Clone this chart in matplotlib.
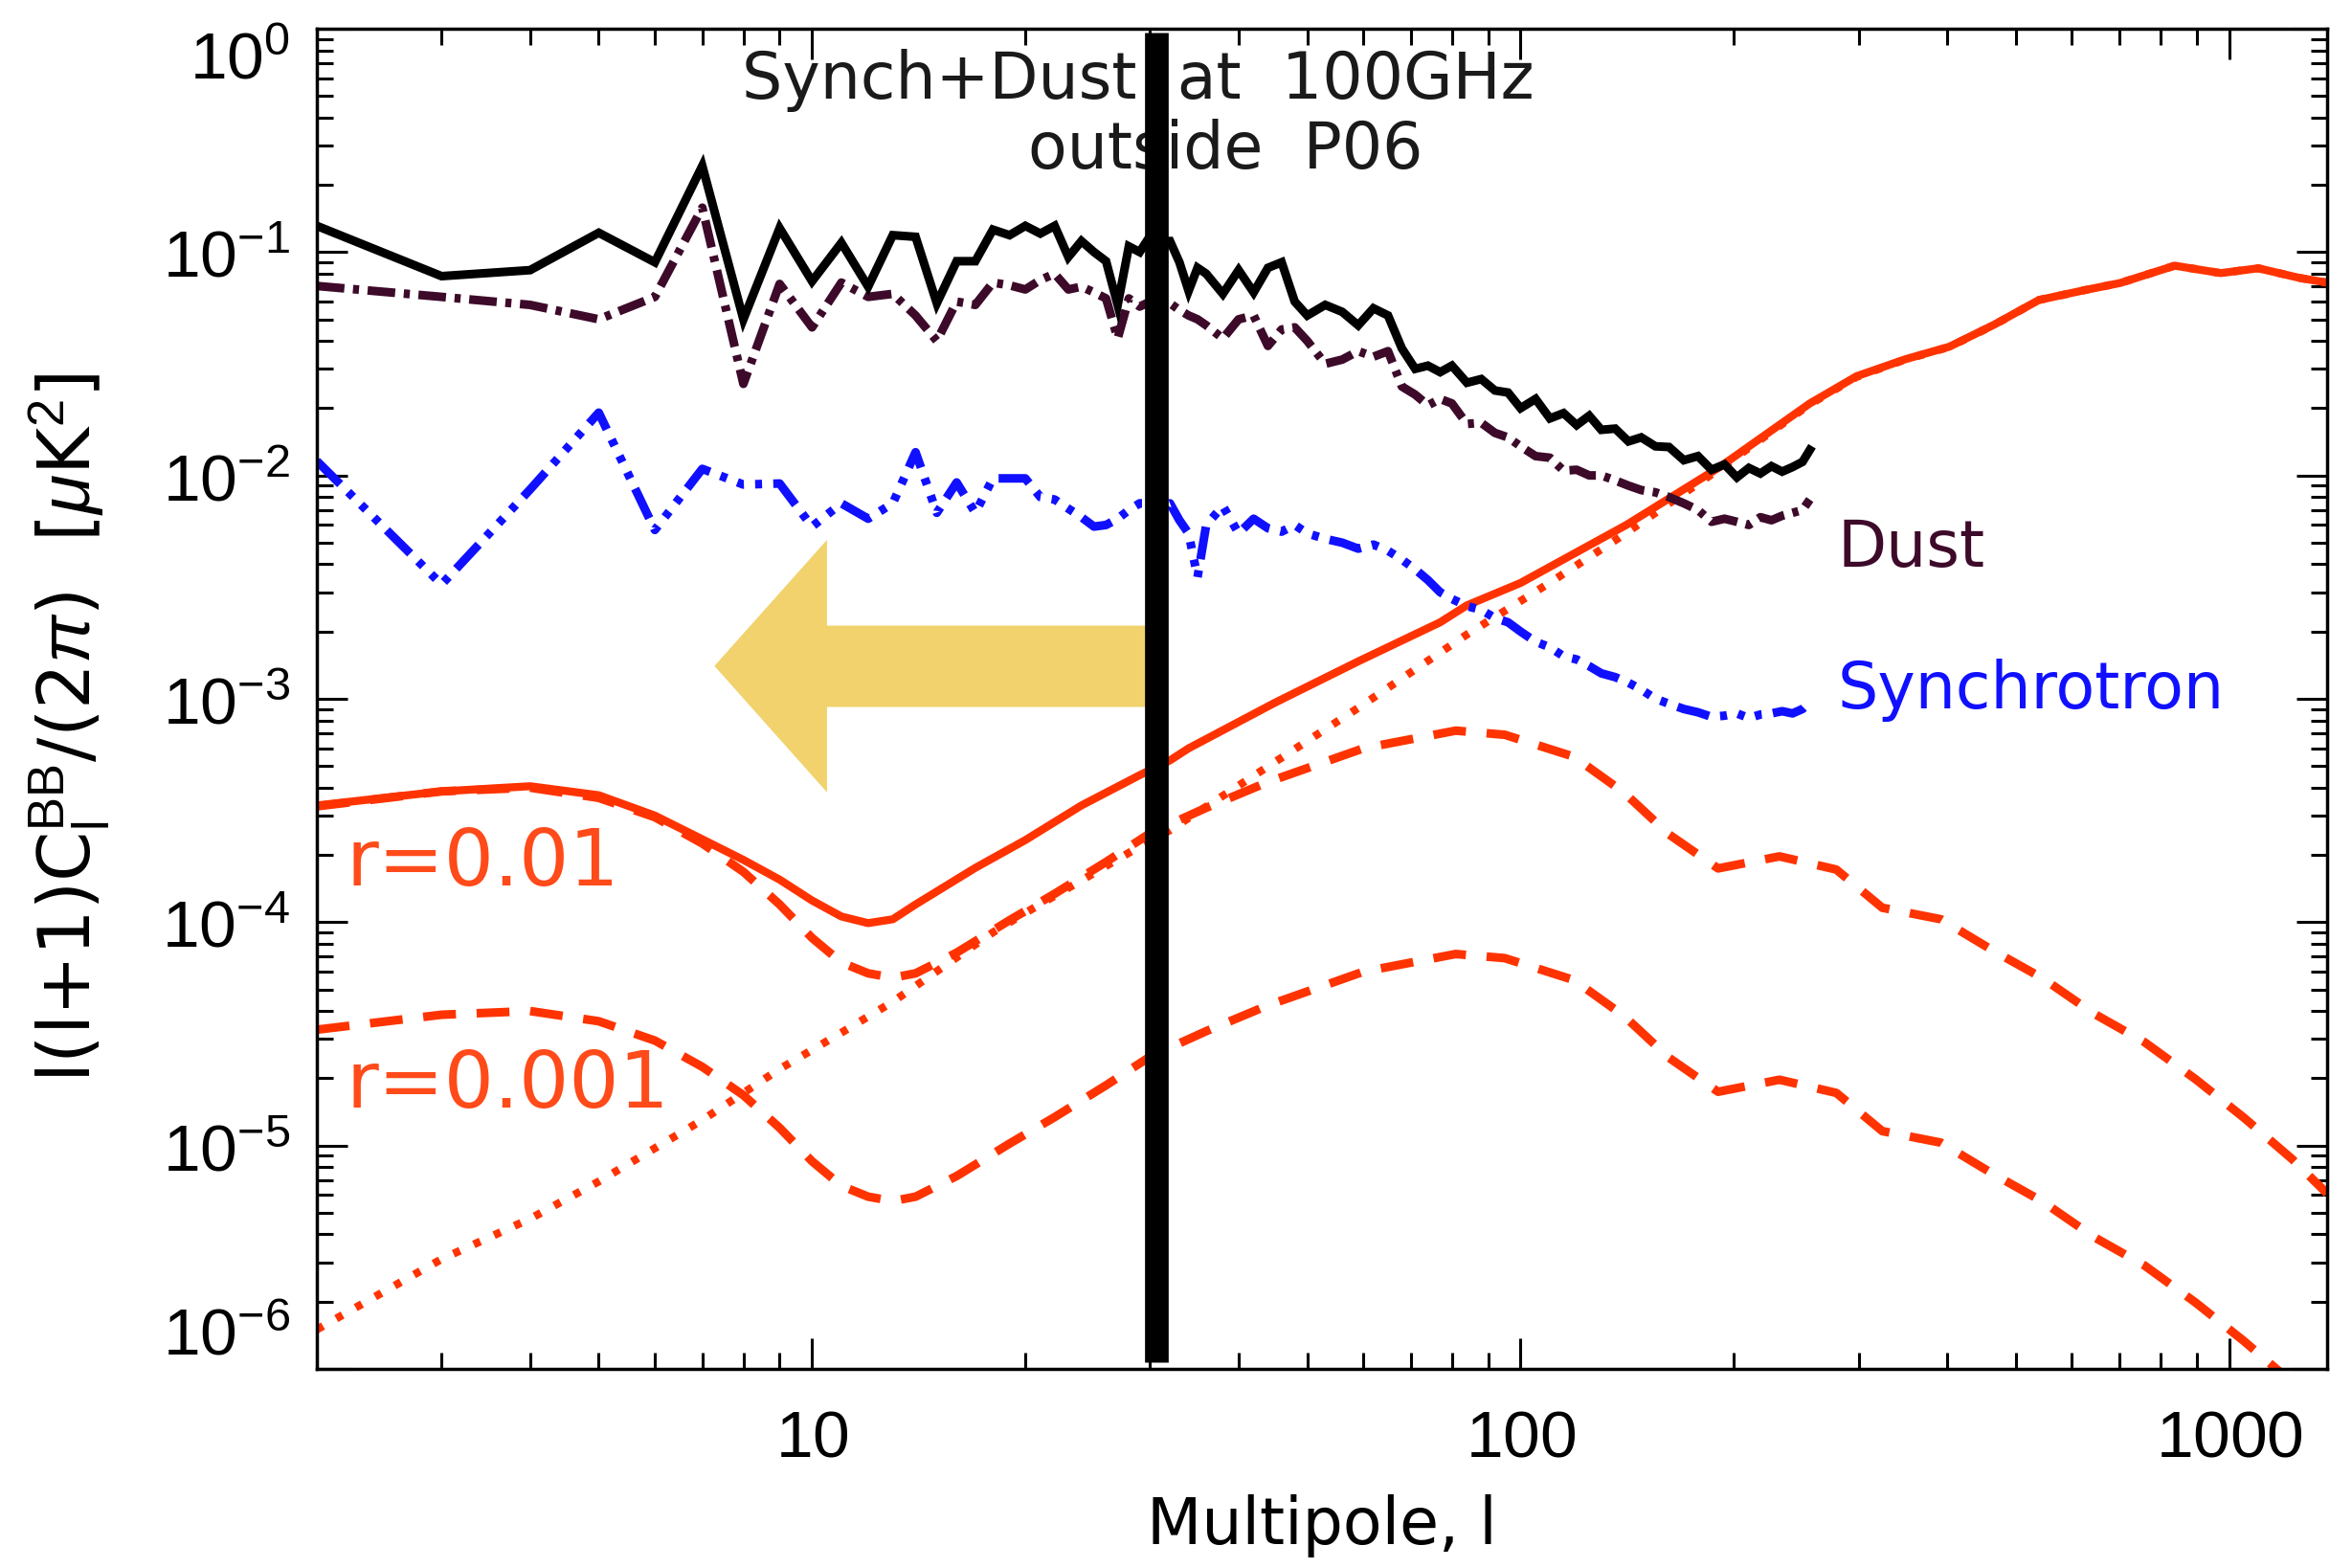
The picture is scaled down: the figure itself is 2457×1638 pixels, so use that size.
import matplotlib
matplotlib.use("Agg")
import math
import matplotlib.pyplot as plt
from matplotlib.patches import Polygon
from matplotlib.ticker import FuncFormatter, NullFormatter, LogLocator, FixedLocator

plt.rcParams['font.family'] = ['DejaVu Sans']
plt.rcParams['mathtext.fontset'] = 'custom'
plt.rcParams['mathtext.rm'] = 'Liberation Sans'
plt.rcParams['mathtext.it'] = 'Liberation Sans:italic'
plt.rcParams['mathtext.bf'] = 'Liberation Sans:bold'

# foreground spectra, l(l+1)C_l/2pi in uK^2
fg_ell = [2, 3, 4, 5, 6, 7, 8, 9, 10, 11, 12, 13, 14, 15, 16, 17, 18, 19, 20, 21,
          22, 23, 24, 25, 26, 27, 28, 29, 30, 31, 32, 33, 34, 35, 36, 38, 40, 42, 44, 46,
          48, 50, 53, 56, 59, 62, 65, 68, 71, 74, 77, 80, 84, 88, 92, 96, 100, 105, 110, 115,
          120, 125, 130, 136, 142, 148, 155, 162, 170, 178, 186, 194, 202, 210, 218, 226, 234, 242, 250, 256]

total_fg = [0.131, 0.078, 0.083, 0.122, 0.090, 0.243, 0.050, 0.128, 0.074, 0.110,
            0.070, 0.119, 0.117, 0.059, 0.091, 0.091, 0.126, 0.119, 0.131, 0.121,
            0.131, 0.095, 0.112, 0.100, 0.091, 0.058, 0.106, 0.100, 0.118, 0.112,
            0.112, 0.090, 0.067, 0.085, 0.080, 0.065, 0.083, 0.066, 0.085, 0.090,
            0.060, 0.052, 0.058, 0.054, 0.047, 0.056, 0.052, 0.037, 0.030, 0.031,
            0.029, 0.031, 0.026, 0.027, 0.024, 0.0235, 0.020, 0.022, 0.018, 0.019,
            0.0168, 0.0185, 0.016, 0.0162, 0.0142, 0.0148, 0.0135, 0.0134, 0.0117, 0.0122,
            0.0106, 0.0112, 0.0098, 0.0108, 0.0102, 0.0110, 0.0104, 0.0109, 0.0115, 0.0130]

dust = [0.0705, 0.063, 0.058, 0.050, 0.063, 0.158, 0.0257, 0.072, 0.046, 0.073,
        0.063, 0.065, 0.052, 0.040, 0.060, 0.058, 0.073, 0.071, 0.068, 0.075,
        0.080, 0.068, 0.070, 0.066, 0.062, 0.041, 0.062, 0.057, 0.060, 0.060,
        0.059, 0.055, 0.052, 0.050, 0.047, 0.041, 0.050, 0.052, 0.038, 0.045,
        0.046, 0.040, 0.0316, 0.033, 0.036, 0.034, 0.036, 0.025, 0.023, 0.0206,
        0.022, 0.021, 0.017, 0.0172, 0.0155, 0.0148, 0.0135, 0.0122, 0.0120, 0.0105,
        0.0106, 0.0100, 0.0100, 0.0095, 0.0090, 0.0086, 0.0084, 0.0080, 0.0075, 0.0070,
        0.0062, 0.0064, 0.0062, 0.0060, 0.0065, 0.0063, 0.0066, 0.0068, 0.0070, 0.0078]

synch = [0.0116, 0.00325, 0.00865, 0.0191, 0.0057, 0.0107, 0.0091, 0.0092, 0.0059, 0.0075,
         0.0064, 0.0075, 0.0127, 0.0068, 0.0093, 0.0068, 0.0097, 0.0097, 0.0097, 0.0080,
         0.0078, 0.0071, 0.0065, 0.0059, 0.0060, 0.0064, 0.0070, 0.0075, 0.0075, 0.0072,
         0.0075, 0.0063, 0.0055, 0.0035, 0.0060, 0.0073, 0.0055, 0.0064, 0.0058, 0.0056,
         0.0060, 0.0055, 0.0052, 0.0050, 0.0047, 0.0049, 0.0046, 0.0042, 0.0038, 0.0034,
         0.0030, 0.0028, 0.0026, 0.0025, 0.0023, 0.0022, 0.0020, 0.0018, 0.0017, 0.00155,
         0.0015, 0.0014, 0.0013, 0.00125, 0.00118, 0.0011, 0.0010, 0.00095, 0.0009, 0.00087,
         0.00083, 0.00084, 0.00086, 0.00082, 0.00085, 0.00086, 0.00088, 0.00086, 0.00090, 0.00097]

# CMB B-modes
lens_ell = [2, 3, 4, 5, 7, 9, 11, 13, 18, 20, 29, 32, 41, 59, 84, 109, 137, 191, 256, 298,
            349, 403, 466, 539, 625, 702, 838, 973, 1100, 1257, 1375]
lensing = [1.5e-6, 3.1e-6, 4.7e-6, 6.9e-6, 1.3e-5, 2.2e-5, 3.2e-5, 4.4e-5, 9.0e-5, 1.1e-4,
           2.18e-4, 2.58e-4, 4.3e-4, 9.1e-4, 1.94e-3, 3.25e-3, 5.2e-3, 1.07e-2, 2.08e-2, 2.76e-2,
           3.3e-2, 3.76e-2, 4.72e-2, 6.1e-2, 6.75e-2, 7.27e-2, 8.69e-2, 8.05e-2, 8.46e-2, 7.66e-2, 7.3e-2]

tot_ell = [2, 3, 4, 5, 6, 7, 8, 9, 10, 11, 12, 13, 14, 17, 20, 24, 29, 32, 34, 45,
           59, 77, 84, 100, 141, 191, 256, 298, 349, 403, 466, 539, 625, 702, 838, 973, 1100, 1257, 1375]
total_r001 = [3.33e-4, 3.85e-4, 4.06e-4, 3.7e-4, 3.0e-4, 2.35e-4, 1.9e-4, 1.55e-4, 1.25e-4, 1.06e-4,
              9.9e-5, 1.03e-4, 1.2e-4, 1.75e-4, 2.33e-4, 3.33e-4, 4.55e-4, 5.3e-4, 6.0e-4, 9.6e-4,
              1.47e-3, 2.2e-3, 2.62e-3, 3.3e-3, 6.0e-3, 1.09e-2, 2.1e-2, 2.78e-2, 3.31e-2, 3.77e-2,
              4.73e-2, 6.1e-2, 6.75e-2, 7.27e-2, 8.69e-2, 8.05e-2, 8.46e-2, 7.66e-2, 7.3e-2]

t_ell = [2, 3, 4, 5, 6, 7, 8, 9, 10, 11, 12, 13, 14, 16, 19, 22, 26, 30, 36, 44,
         60, 81, 95, 119, 140, 162, 190, 232, 279, 324, 392, 463, 546, 644, 760, 897, 1050, 1227, 1375]
tensor_r001 = [3.3e-4, 3.85e-4, 4.0e-4, 3.6e-4, 2.95e-4, 2.25e-4, 1.68e-4, 1.2e-4, 8.5e-5, 6.6e-5,
               5.9e-5, 5.64e-5, 5.9e-5, 7.3e-5, 1.02e-4, 1.34e-4, 1.86e-4, 2.5e-4, 3.25e-4, 4.24e-4,
               6.0e-4, 7.2e-4, 6.9e-4, 5.5e-4, 3.8e-4, 2.47e-4, 1.74e-4, 1.97e-4, 1.72e-4, 1.16e-4,
               1.03e-4, 7.5e-5, 5.6e-5, 3.9e-5, 2.9e-5, 1.98e-5, 1.33e-5, 8.7e-6, 6.1e-6]
tensor_r0001 = [3.3e-5, 3.85e-5, 4.0e-5, 3.6e-5, 2.95e-5, 2.25e-5, 1.68e-5, 1.2e-5, 8.5e-6, 6.6e-6,
                5.9e-6, 5.64e-6, 5.9e-6, 7.3e-6, 1.02e-5, 1.34e-5, 1.86e-5, 2.5e-5, 3.25e-5, 4.24e-5,
                6.0e-5, 7.2e-5, 6.9e-5, 5.5e-5, 3.8e-5, 2.47e-5, 1.74e-5, 1.97e-5, 1.72e-5, 1.16e-5,
                1.03e-5, 7.5e-6, 5.6e-6, 3.9e-6, 2.9e-6, 1.98e-6, 1.33e-6, 8.7e-7, 6.1e-7]

x_ticks = [10, 100, 1000]
y_ticks = [1e-5, 1e-4, 1e-3, 1e-2, 1e-1]   # 1e-6 and 1e0 are labelled by hand below
l_cut = 30.6

red = '#ff3300'
maroon = '#3d0a2a'
blue = '#1010ff'

fig = plt.figure(figsize=(24.57, 16.38), dpi=100)
ax = fig.add_axes([0.1347, 0.1270, 0.8547, 0.8547])
ax.set_xscale('log')
ax.set_yscale('log')
ax.set_xlim(2, 1375)
ax.set_ylim(1e-6, 1)

# red CMB curves
ax.plot(lens_ell, lensing, color=red, lw=6, linestyle=(0, (0.9, 1.9)))
ax.plot(t_ell, tensor_r001, color=red, lw=6.5, linestyle=(0, (3.8, 2.4)))
ax.plot(t_ell, tensor_r0001, color=red, lw=6.5, linestyle=(0, (3.8, 2.4)))
ax.plot(tot_ell, total_r001, color=red, lw=6, solid_joinstyle='round')

# foregrounds
ax.plot(fg_ell, synch, color=blue, lw=6.5,
        linestyle=(0, (3.8, 1.3, 0.8, 1.3, 0.8, 1.3, 0.8, 1.3)))
ax.plot(fg_ell, dust, color=maroon, lw=6.5, linestyle=(0, (3.2, 1.0, 0.7, 1.0)))
ax.plot(fg_ell, total_fg, color='black', lw=6.5, solid_joinstyle='miter')

# yellow arrow
arrow = Polygon([(0.1978, 0.5245), (0.2538, 0.6186), (0.2538, 0.5546), (0.4171, 0.5546),
                 (0.4171, 0.4939), (0.2538, 0.4939), (0.2538, 0.4302)],
                closed=True, transform=ax.transAxes, facecolor='#f1d26c', edgecolor='none', zorder=4)
ax.add_patch(arrow)

# thick cut line
ax.axvline(l_cut, ymin=0.0047, ymax=0.9974, color='black', lw=17.8, solid_capstyle='butt', zorder=10)

# text
ax.text(0.4086, 0.9479, 'Synch+Dust  at  100GHz', transform=ax.transAxes, ha='center',
        va='baseline', fontsize=48, color='#1a1a1a')
ax.text(0.4519, 0.8957, 'outside  P06', transform=ax.transAxes, ha='center',
        va='baseline', fontsize=48, color='#1a1a1a')
ax.text(0.7565, 0.5986, 'Dust', transform=ax.transAxes, ha='left', va='baseline',
        fontsize=48, color=maroon)
ax.text(0.7565, 0.4929, 'Synchrotron', transform=ax.transAxes, ha='left', va='baseline',
        fontsize=48, color=blue)
ax.text(0.0146, 0.3607, 'r=0.01', transform=ax.transAxes, ha='left', va='baseline',
        fontsize=59, color='#ff4a1a')
ax.text(0.0146, 0.1951, 'r=0.001', transform=ax.transAxes, ha='left', va='baseline',
        fontsize=59, color='#ff4a1a')

fig.text(0.562, 0.015, 'Multipole, l', ha='center', va='baseline', fontsize=48)
fig.text(0.03, 0.536, r'l(l+1)C$_\mathrm{l}^\mathrm{BB}$/(2$\pi$)  [$\mu$K$^\mathrm{2}$]',
         rotation=90, ha='center', va='center', fontsize=54)

# axes styling, IDL look
for sp in ax.spines.values():
    sp.set_linewidth(2.5)
ax.tick_params(which='both', direction='in', top=True, right=True, width=2.2)
ax.tick_params(which='major', length=23, labelsize=50)
ax.tick_params(which='minor', length=12)
ax.tick_params(axis='x', which='major', pad=28)
ax.tick_params(axis='y', which='major', pad=20)

ax.xaxis.set_major_locator(FixedLocator(x_ticks))
ax.xaxis.set_minor_locator(LogLocator(base=10, subs=range(2, 10), numticks=20))
ax.xaxis.set_major_formatter(FuncFormatter(lambda v, p: r'$\mathrm{%d}$' % round(v)))
ax.xaxis.set_minor_formatter(NullFormatter())

ax.yaxis.set_major_locator(FixedLocator(y_ticks))
ax.yaxis.set_minor_locator(LogLocator(base=10, subs=range(2, 10), numticks=20))
ax.yaxis.set_major_formatter(FuncFormatter(lambda v, p: r'$\mathrm{10^{%d}}$' % round(math.log10(v))))
ax.yaxis.set_minor_formatter(NullFormatter())

# end decades: major ticks without auto labels, labels kept inside the axis height
for yv in (1e-6, 1.0):
    ax.plot([0, 0.0165], [yv, yv], transform=ax.get_yaxis_transform(), color='black',
            lw=2.2, clip_on=False)
    ax.plot([0.9835, 1], [yv, yv], transform=ax.get_yaxis_transform(), color='black',
            lw=2.2, clip_on=False)
ax.annotate(r'$\mathrm{10^{0}}$', xy=(0, 1), xycoords='axes fraction', xytext=(-20, 0),
            textcoords='offset points', ha='right', va='top', fontsize=50)
ax.annotate(r'$\mathrm{10^{-6}}$', xy=(0, 0), xycoords='axes fraction', xytext=(-20, 0),
            textcoords='offset points', ha='right', va='bottom', fontsize=50)

fig.savefig('out.png', dpi=100, facecolor='white')
